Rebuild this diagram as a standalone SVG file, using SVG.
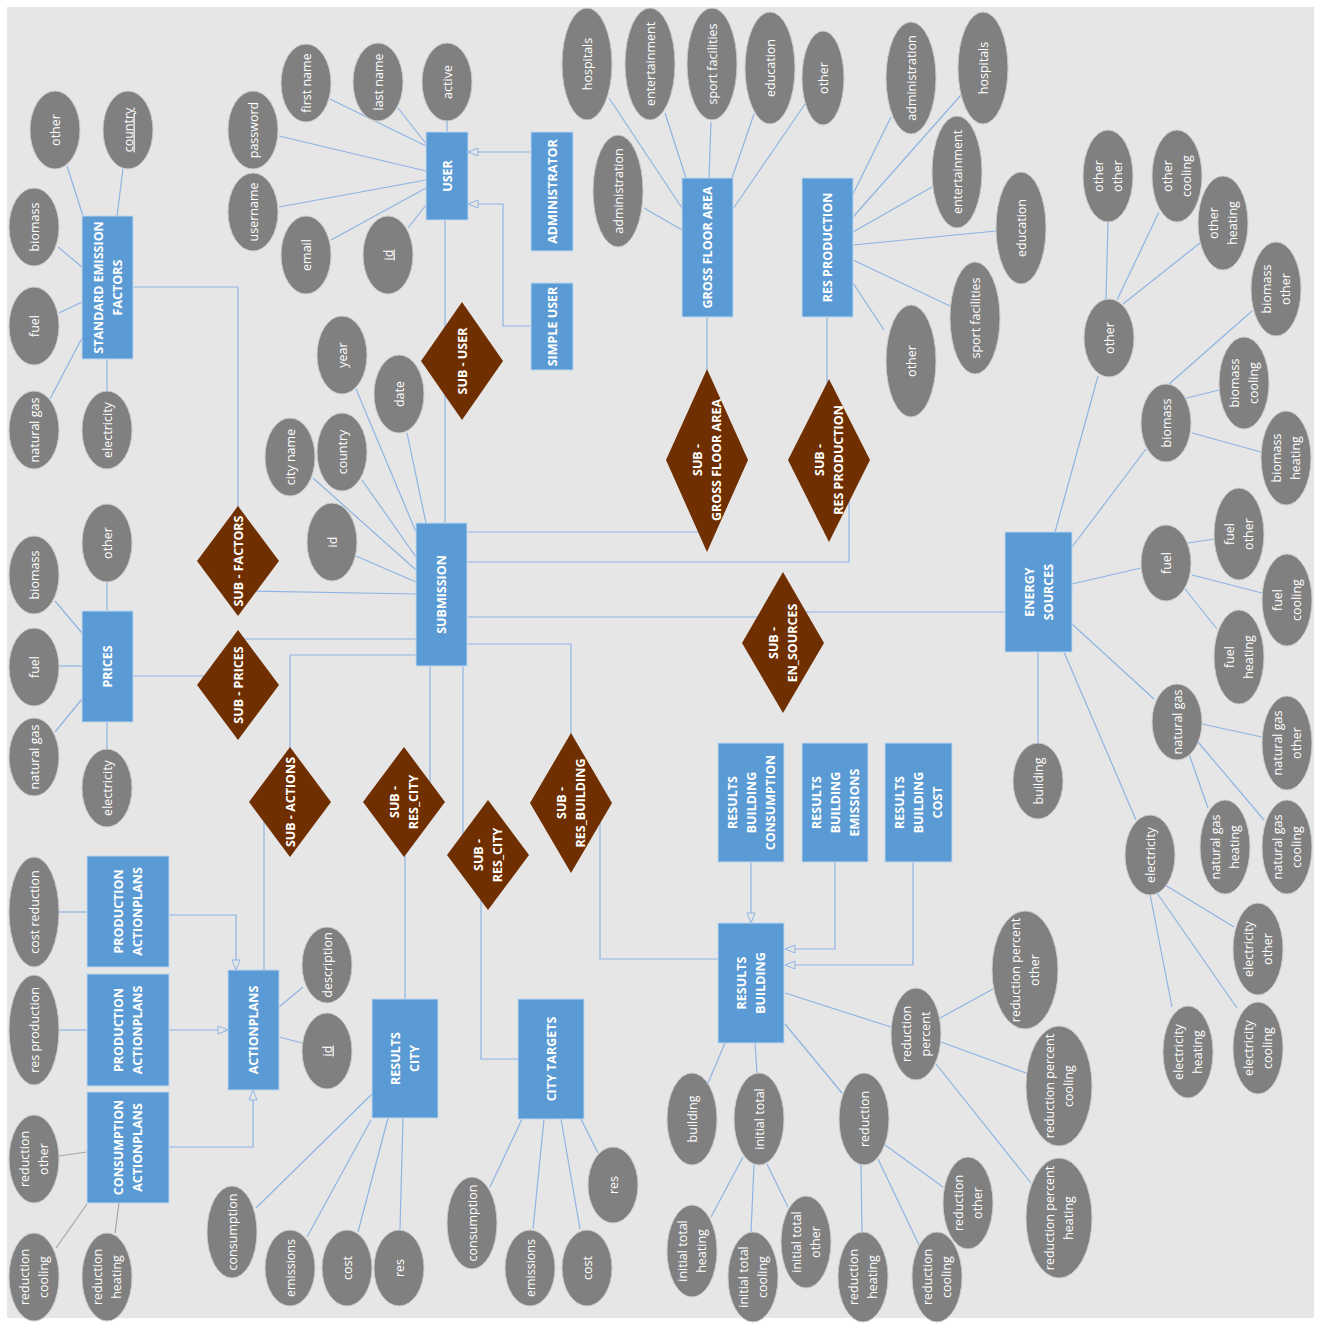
<svg xmlns="http://www.w3.org/2000/svg" width="1317" height="1323" viewBox="0 0 1317 1323">
<style>
.bg{fill:#e7e6e6}
.e{fill:#5b9bd5;stroke:#bdd7ee;stroke-width:1}
.a{fill:#808080;stroke:#c9c9c9;stroke-width:1}
.r{fill:#702f00}
.ln{fill:none;stroke:#8eb4e3;stroke-width:1.2}
.gl{fill:none;stroke:#a6a6a6;stroke-width:1.2}
.t{font-family:"Open Sans","Noto Sans",sans-serif;font-size:12.5px;fill:#fff;text-anchor:middle}
.b{font-weight:bold}
.u{text-decoration:underline}
</style>
<defs>
<marker id="tri" viewBox="0 0 10 8" refX="10" refY="4" markerWidth="10" markerHeight="8" markerUnits="userSpaceOnUse" orient="auto" overflow="visible">
<path d="M0,0 L10,4 L0,8 z" fill="#e7e6e6" stroke="#8eb4e3" stroke-width="1"/>
</marker>
</defs>
<rect x="0" y="0" width="1317" height="1323" fill="#ffffff"/>
<rect class="bg" x="7" y="7" width="1307" height="1311"/>

<g id="connectors">
<!-- SEF -->
<line class="ln" x1="67" y1="166" x2="83" y2="216"/>
<line class="ln" x1="123" y1="169" x2="117" y2="216"/>
<line class="ln" x1="58" y1="247" x2="82" y2="267"/>
<line class="ln" x1="59" y1="313" x2="82" y2="302"/>
<line class="ln" x1="50" y1="399" x2="82" y2="338"/>
<line class="ln" x1="107" y1="359" x2="107" y2="392"/>
<polyline class="ln" points="133,287 238,287 238,530"/>
<!-- USER -->
<line class="ln" x1="279" y1="136" x2="426" y2="171"/>
<line class="ln" x1="330" y1="99" x2="426" y2="146"/>
<line class="ln" x1="398" y1="108" x2="427" y2="145"/>
<line class="ln" x1="447" y1="121" x2="447" y2="132"/>
<line class="ln" x1="279" y1="207" x2="426" y2="180"/>
<line class="ln" x1="331" y1="240" x2="426" y2="188"/>
<line class="ln" x1="408" y1="228" x2="426" y2="205"/>
<polyline class="ln" points="531,152 468,152" marker-end="url(#tri)"/>
<polyline class="ln" points="531,326 503,326 503,204 468,204" marker-end="url(#tri)"/>
<line class="ln" x1="445" y1="220" x2="445" y2="523"/>
<!-- GFA -->
<line class="ln" x1="609" y1="98" x2="682" y2="208"/>
<line class="ln" x1="665" y1="113" x2="686" y2="178"/>
<line class="ln" x1="711" y1="122" x2="709" y2="178"/>
<line class="ln" x1="754" y1="114" x2="732" y2="178"/>
<line class="ln" x1="805" y1="104" x2="733" y2="209"/>
<line class="ln" x1="644" y1="208" x2="682" y2="230"/>
<line class="ln" x1="707" y1="317" x2="707" y2="380"/>
<!-- RP -->
<line class="ln" x1="891" y1="117" x2="853" y2="194"/>
<line class="ln" x1="961" y1="95" x2="853" y2="217"/>
<line class="ln" x1="932" y1="187" x2="853" y2="232"/>
<line class="ln" x1="996" y1="231" x2="853" y2="245"/>
<line class="ln" x1="950" y1="306" x2="853" y2="260"/>
<line class="ln" x1="884" y1="330" x2="853" y2="283"/>
<line class="ln" x1="827" y1="317" x2="827" y2="390"/>
<!-- SUBMISSION attrs -->
<line class="ln" x1="356" y1="389" x2="416" y2="532"/>
<line class="ln" x1="407" y1="433" x2="426" y2="523"/>
<line class="ln" x1="362" y1="480" x2="416" y2="557"/>
<line class="ln" x1="313" y1="478" x2="416" y2="570"/>
<line class="ln" x1="356" y1="556" x2="416" y2="582"/>
<!-- SUBMISSION relations -->
<line class="ln" x1="467" y1="532" x2="700" y2="532"/>
<polyline class="ln" points="467,562 849,562 849,490"/>
<line class="ln" x1="467" y1="617" x2="770" y2="617"/>
<line class="ln" x1="800" y1="612" x2="1005" y2="612"/>
<polyline class="ln" points="467,644 571,644 571,760"/>
<polyline class="ln" points="600,815 600,959 718,959"/>
<line class="ln" x1="430" y1="666" x2="430" y2="790"/>
<line class="ln" x1="405" y1="840" x2="405" y2="999"/>
<line class="ln" x1="463" y1="666" x2="463" y2="840"/>
<polyline class="ln" points="481,880 481,1059 518,1059"/>
<polyline class="ln" points="416,655 290,655 290,760"/>
<line class="ln" x1="264" y1="815" x2="264" y2="970"/>
<line class="ln" x1="240" y1="639" x2="416" y2="639"/>
<line class="ln" x1="133" y1="676" x2="220" y2="676"/>
<line class="ln" x1="250" y1="591" x2="416" y2="594"/>
<!-- PRICES -->
<line class="ln" x1="107" y1="582" x2="107" y2="611"/>
<line class="ln" x1="55" y1="601" x2="82" y2="633"/>
<line class="ln" x1="59" y1="666" x2="82" y2="666"/>
<line class="ln" x1="55" y1="732" x2="82" y2="699"/>
<line class="ln" x1="107" y1="722" x2="107" y2="750"/>
<!-- ACTIONPLANS -->
<line class="ln" x1="59" y1="912" x2="87" y2="912"/>
<line class="ln" x1="59" y1="1030" x2="87" y2="1030"/>
<line class="gl" x1="59" y1="1156" x2="87" y2="1152"/>
<line class="gl" x1="56" y1="1248" x2="87" y2="1204"/>
<line class="gl" x1="115" y1="1233" x2="119" y2="1203"/>
<line class="ln" x1="303" y1="987" x2="279" y2="1007"/>
<line class="ln" x1="302" y1="1043" x2="279" y2="1037"/>
<polyline class="ln" points="169,915 236,915 236,970" marker-end="url(#tri)"/>
<polyline class="ln" points="169,1030 228,1030" marker-end="url(#tri)"/>
<polyline class="ln" points="169,1147 253,1147 253,1090" marker-end="url(#tri)"/>
<!-- RESULTS CITY -->
<line class="ln" x1="256" y1="1208" x2="372" y2="1094"/>
<line class="ln" x1="307" y1="1237" x2="371" y2="1120"/>
<line class="ln" x1="358" y1="1232" x2="388" y2="1118"/>
<line class="ln" x1="400" y1="1229" x2="403" y2="1118"/>
<!-- CITY TARGETS -->
<line class="ln" x1="490" y1="1187" x2="522" y2="1119"/>
<line class="ln" x1="533" y1="1229" x2="544" y2="1119"/>
<line class="ln" x1="580" y1="1229" x2="561" y2="1119"/>
<line class="ln" x1="598" y1="1153" x2="581" y2="1119"/>
<!-- RESULTS BUILDING -->
<polyline class="ln" points="751,862 751,923" marker-end="url(#tri)"/>
<polyline class="ln" points="835,862 835,949 785,949" marker-end="url(#tri)"/>
<polyline class="ln" points="913,862 913,965 785,965" marker-end="url(#tri)"/>
<line class="ln" x1="725" y1="1043" x2="708" y2="1083"/>
<line class="ln" x1="755" y1="1043" x2="757" y2="1073"/>
<line class="ln" x1="785" y1="1024" x2="842" y2="1093"/>
<line class="ln" x1="785" y1="993" x2="891" y2="1027"/>
<line class="ln" x1="743" y1="1157" x2="711" y2="1217"/>
<line class="ln" x1="754" y1="1165" x2="751" y2="1232"/>
<line class="ln" x1="767" y1="1164" x2="788" y2="1207"/>
<line class="ln" x1="861" y1="1165" x2="862" y2="1232"/>
<line class="ln" x1="878" y1="1159" x2="919" y2="1245"/>
<line class="ln" x1="885" y1="1145" x2="943" y2="1187"/>
<line class="ln" x1="940" y1="1018" x2="993" y2="989"/>
<line class="ln" x1="941" y1="1042" x2="1026" y2="1073"/>
<line class="ln" x1="936" y1="1064" x2="1031" y2="1183"/>
<!-- ENERGY SOURCES -->
<line class="ln" x1="1106" y1="299" x2="1108" y2="222"/>
<line class="ln" x1="1117" y1="300" x2="1159" y2="212"/>
<line class="ln" x1="1123" y1="304" x2="1200" y2="243"/>
<line class="ln" x1="1098" y1="376" x2="1055" y2="532"/>
<line class="ln" x1="1168" y1="385" x2="1252" y2="311"/>
<line class="ln" x1="1183" y1="399" x2="1219" y2="390"/>
<line class="ln" x1="1192" y1="433" x2="1261" y2="452"/>
<line class="ln" x1="1146" y1="449" x2="1072" y2="547"/>
<line class="ln" x1="1072" y1="584" x2="1141" y2="568"/>
<line class="ln" x1="1188" y1="543" x2="1214" y2="539"/>
<line class="ln" x1="1192" y1="575" x2="1262" y2="593"/>
<line class="ln" x1="1185" y1="589" x2="1217" y2="629"/>
<line class="ln" x1="1072" y1="624" x2="1154" y2="699"/>
<line class="ln" x1="1202" y1="724" x2="1262" y2="737"/>
<line class="ln" x1="1189" y1="754" x2="1208" y2="808"/>
<line class="ln" x1="1198" y1="742" x2="1264" y2="820"/>
<line class="ln" x1="1038" y1="652" x2="1038" y2="743"/>
<line class="ln" x1="1064" y1="652" x2="1136" y2="820"/>
<line class="ln" x1="1150" y1="894" x2="1172" y2="1007"/>
<line class="ln" x1="1157" y1="893" x2="1237" y2="1008"/>
<line class="ln" x1="1165" y1="885" x2="1234" y2="927"/>
</g>

<!-- ENTITIES -->
<g id="n_sef"><rect class="e" x="82" y="216" width="51" height="143"/><text class="t b" transform="translate(107.5 287.5) rotate(-90)"><tspan x="0" y="-5">STANDARD EMISSION</tspan><tspan x="0" y="14">FACTORS</tspan></text></g>
<g id="n_user"><rect class="e" x="426" y="132" width="42" height="88"/><text class="t b" transform="translate(447 176) rotate(-90)" y="4.5">USER</text></g>
<g id="n_admin"><rect class="e" x="531" y="132" width="42" height="119"/><text class="t b" transform="translate(552 191.5) rotate(-90)" y="4.5">ADMINISTRATOR</text></g>
<g id="n_simple"><rect class="e" x="531" y="283" width="42" height="87"/><text class="t b" transform="translate(552 326.5) rotate(-90)" y="4.5">SIMPLE USER</text></g>
<g id="n_gfa"><rect class="e" x="682" y="178" width="51" height="139"/><text class="t b" transform="translate(707.5 247.5) rotate(-90)" y="4.5">GROSS FLOOR AREA</text></g>
<g id="n_rp"><rect class="e" x="802" y="178" width="51" height="139"/><text class="t b" transform="translate(827.5 247.5) rotate(-90)" y="4.5">RES PRODUCTION</text></g>
<g id="n_sub"><rect class="e" x="416" y="523" width="51" height="143"/><text class="t b" transform="translate(441.5 594.5) rotate(-90)" y="4.5">SUBMISSION</text></g>
<g id="n_prices"><rect class="e" x="82" y="611" width="51" height="111"/><text class="t b" transform="translate(107.5 666.5) rotate(-90)" y="4.5">PRICES</text></g>
<g id="n_es"><rect class="e" x="1005" y="532" width="67" height="120"/><text class="t b" transform="translate(1038.5 592) rotate(-90)"><tspan x="0" y="-5">ENERGY</tspan><tspan x="0" y="14">SOURCES</tspan></text></g>
<g id="n_pa1"><rect class="e" x="87" y="856" width="82" height="111"/><text class="t b" transform="translate(128 911.5) rotate(-90)"><tspan x="0" y="-5">PRODUCTION</tspan><tspan x="0" y="14">ACTIONPLANS</tspan></text></g>
<g id="n_pa2"><rect class="e" x="87" y="974" width="82" height="112"/><text class="t b" transform="translate(128 1030) rotate(-90)"><tspan x="0" y="-5">PRODUCTION</tspan><tspan x="0" y="14">ACTIONPLANS</tspan></text></g>
<g id="n_ca"><rect class="e" x="87" y="1092" width="82" height="111"/><text class="t b" transform="translate(128 1147.5) rotate(-90)"><tspan x="0" y="-5">CONSUMPTION</tspan><tspan x="0" y="14">ACTIONPLANS</tspan></text></g>
<g id="n_ap"><rect class="e" x="228" y="970" width="51" height="120"/><text class="t b" transform="translate(253.5 1030) rotate(-90)" y="4.5">ACTIONPLANS</text></g>
<g id="n_rc"><rect class="e" x="372" y="999" width="66" height="119"/><text class="t b" transform="translate(405 1058.5) rotate(-90)"><tspan x="0" y="-5">RESULTS</tspan><tspan x="0" y="14">CITY</tspan></text></g>
<g id="n_ct"><rect class="e" x="518" y="999" width="66" height="120"/><text class="t b" transform="translate(551 1059) rotate(-90)" y="4.5">CITY TARGETS</text></g>
<g id="n_rbc"><rect class="e" x="718" y="743" width="66" height="119"/><text class="t b" transform="translate(751 802.5) rotate(-90)"><tspan x="0" y="-14.5">RESULTS</tspan><tspan x="0" y="4.5">BUILDING</tspan><tspan x="0" y="23.5">CONSUMPTION</tspan></text></g>
<g id="n_rbe"><rect class="e" x="802" y="743" width="66" height="119"/><text class="t b" transform="translate(835 802.5) rotate(-90)"><tspan x="0" y="-14.5">RESULTS</tspan><tspan x="0" y="4.5">BUILDING</tspan><tspan x="0" y="23.5">EMISSIONS</tspan></text></g>
<g id="n_rbcost"><rect class="e" x="885" y="743" width="67" height="119"/><text class="t b" transform="translate(918.5 802.5) rotate(-90)"><tspan x="0" y="-14.5">RESULTS</tspan><tspan x="0" y="4.5">BUILDING</tspan><tspan x="0" y="23.5">COST</tspan></text></g>
<g id="n_rb"><rect class="e" x="718" y="923" width="66" height="120"/><text class="t b" transform="translate(751 983) rotate(-90)"><tspan x="0" y="-5">RESULTS</tspan><tspan x="0" y="14">BUILDING</tspan></text></g>

<!-- RELATIONSHIPS -->
<g id="r_factors"><polygon class="r" points="238,506 279,561 238,616 197,561"/><text class="t b" transform="translate(238 561) rotate(-90)" y="4.5">SUB - FACTORS</text></g>
<g id="r_user"><polygon class="r" points="462,302 503,361 462,420 421,361"/><text class="t b" transform="translate(462 361) rotate(-90)" y="4.5">SUB - USER</text></g>
<g id="r_prices"><polygon class="r" points="238,630 279,685 238,740 197,685"/><text class="t b" transform="translate(238 685) rotate(-90)" y="4.5">SUB - PRICES</text></g>
<g id="r_actions"><polygon class="r" points="290,747 331,802 290,857 249,802"/><text class="t b" transform="translate(290 802) rotate(-90)" y="4.5">SUB - ACTIONS</text></g>
<g id="r_rescity1"><polygon class="r" points="404,747 445,802 404,857 363,802"/><text class="t b" transform="translate(404 802) rotate(-90)"><tspan x="0" y="-5">SUB -</tspan><tspan x="0" y="14">RES_CITY</tspan></text></g>
<g id="r_rescity2"><polygon class="r" points="488,800 529,855 488,910 447,855"/><text class="t b" transform="translate(488 855) rotate(-90)"><tspan x="0" y="-5">SUB -</tspan><tspan x="0" y="14">RES_CITY</tspan></text></g>
<g id="r_resbuilding"><polygon class="r" points="571,733 612,803 571,873 530,803"/><text class="t b" transform="translate(571 803) rotate(-90)"><tspan x="0" y="-5">SUB -</tspan><tspan x="0" y="14">RES_BUILDING</tspan></text></g>
<g id="r_gfa"><polygon class="r" points="707,369 748,460 707,552 666,460"/><text class="t b" transform="translate(707 460) rotate(-90)"><tspan x="0" y="-5">SUB -</tspan><tspan x="0" y="14">GROSS FLOOR AREA</tspan></text></g>
<g id="r_rp"><polygon class="r" points="829,379 870,460 829,542 788,460"/><text class="t b" transform="translate(829 460) rotate(-90)"><tspan x="0" y="-5">SUB -</tspan><tspan x="0" y="14">RES PRODUCTION</tspan></text></g>
<g id="r_en"><polygon class="r" points="783,572 824,643 783,713 742,643"/><text class="t b" transform="translate(783 643) rotate(-90)"><tspan x="0" y="-5">SUB -</tspan><tspan x="0" y="14">EN_SOURCES</tspan></text></g>

<!-- ATTRIBUTES: SEF -->
<g id="a_sef_other"><ellipse class="a" cx="55" cy="130" rx="25" ry="39"/><text class="t" transform="translate(55 130) rotate(-90)" y="4.5">other</text></g>
<g id="a_sef_country"><ellipse class="a" cx="128" cy="130" rx="25" ry="39"/><text class="t u" transform="translate(128 130) rotate(-90)" y="4.5">country</text></g>
<g id="a_sef_biomass"><ellipse class="a" cx="34" cy="227" rx="25" ry="39"/><text class="t" transform="translate(34 227) rotate(-90)" y="4.5">biomass</text></g>
<g id="a_sef_fuel"><ellipse class="a" cx="34" cy="326" rx="25" ry="39"/><text class="t" transform="translate(34 326) rotate(-90)" y="4.5">fuel</text></g>
<g id="a_sef_ng"><ellipse class="a" cx="34" cy="430" rx="25" ry="39"/><text class="t" transform="translate(34 430) rotate(-90)" y="4.5">natural gas</text></g>
<g id="a_sef_elec"><ellipse class="a" cx="107" cy="430" rx="25" ry="39"/><text class="t" transform="translate(107 430) rotate(-90)" y="4.5">electricity</text></g>
<!-- USER -->
<g id="a_u_password"><ellipse class="a" cx="253" cy="130" rx="25" ry="39"/><text class="t" transform="translate(253 130) rotate(-90)" y="4.5">password</text></g>
<g id="a_u_first"><ellipse class="a" cx="306" cy="83" rx="25" ry="39"/><text class="t" transform="translate(306 83) rotate(-90)" y="4.5">first name</text></g>
<g id="a_u_last"><ellipse class="a" cx="378" cy="82" rx="25" ry="39"/><text class="t" transform="translate(378 82) rotate(-90)" y="4.5">last name</text></g>
<g id="a_u_active"><ellipse class="a" cx="447" cy="82" rx="25" ry="39"/><text class="t" transform="translate(447 82) rotate(-90)" y="4.5">active</text></g>
<g id="a_u_username"><ellipse class="a" cx="253" cy="212" rx="25" ry="39"/><text class="t" transform="translate(253 212) rotate(-90)" y="4.5">username</text></g>
<g id="a_u_email"><ellipse class="a" cx="306" cy="255" rx="25" ry="39"/><text class="t" transform="translate(306 255) rotate(-90)" y="4.5">email</text></g>
<g id="a_u_id"><ellipse class="a" cx="388" cy="255" rx="25" ry="39"/><text class="t u" transform="translate(388 255) rotate(-90)" y="4.5">id</text></g>
<!-- GFA -->
<g id="a_g_hosp"><ellipse class="a" cx="587" cy="64" rx="25" ry="56"/><text class="t" transform="translate(587 64) rotate(-90)" y="4.5">hospitals</text></g>
<g id="a_g_ent"><ellipse class="a" cx="650" cy="64" rx="25" ry="56"/><text class="t" transform="translate(650 64) rotate(-90)" y="4.5">entertainment</text></g>
<g id="a_g_sport"><ellipse class="a" cx="712" cy="64" rx="25" ry="56"/><text class="t" transform="translate(712 64) rotate(-90)" y="4.5">sport facilities</text></g>
<g id="a_g_edu"><ellipse class="a" cx="770" cy="68" rx="25" ry="56"/><text class="t" transform="translate(770 68) rotate(-90)" y="4.5">education</text></g>
<g id="a_g_other"><ellipse class="a" cx="823" cy="78" rx="21" ry="47"/><text class="t" transform="translate(823 78) rotate(-90)" y="4.5">other</text></g>
<g id="a_g_admin"><ellipse class="a" cx="618" cy="191" rx="25" ry="56"/><text class="t" transform="translate(618 191) rotate(-90)" y="4.5">administration</text></g>
<!-- RP -->
<g id="a_r_admin"><ellipse class="a" cx="911" cy="78" rx="25" ry="56"/><text class="t" transform="translate(911 78) rotate(-90)" y="4.5">administration</text></g>
<g id="a_r_hosp"><ellipse class="a" cx="983" cy="68" rx="25" ry="56"/><text class="t" transform="translate(983 68) rotate(-90)" y="4.5">hospitals</text></g>
<g id="a_r_ent"><ellipse class="a" cx="957" cy="172" rx="25" ry="56"/><text class="t" transform="translate(957 172) rotate(-90)" y="4.5">entertainment</text></g>
<g id="a_r_edu"><ellipse class="a" cx="1021" cy="228" rx="25" ry="56"/><text class="t" transform="translate(1021 228) rotate(-90)" y="4.5">education</text></g>
<g id="a_r_sport"><ellipse class="a" cx="975" cy="318" rx="25" ry="56"/><text class="t" transform="translate(975 318) rotate(-90)" y="4.5">sport facilities</text></g>
<g id="a_r_other"><ellipse class="a" cx="911" cy="361" rx="25" ry="56"/><text class="t" transform="translate(911 361) rotate(-90)" y="4.5">other</text></g>
<!-- SUBMISSION -->
<g id="a_s_year"><ellipse class="a" cx="342" cy="355" rx="25" ry="39"/><text class="t" transform="translate(342 355) rotate(-90)" y="4.5">year</text></g>
<g id="a_s_date"><ellipse class="a" cx="399" cy="394" rx="25" ry="39"/><text class="t" transform="translate(399 394) rotate(-90)" y="4.5">date</text></g>
<g id="a_s_city"><ellipse class="a" cx="290" cy="457" rx="25" ry="39"/><text class="t" transform="translate(290 457) rotate(-90)" y="4.5">city name</text></g>
<g id="a_s_country"><ellipse class="a" cx="342" cy="452" rx="25" ry="39"/><text class="t" transform="translate(342 452) rotate(-90)" y="4.5">country</text></g>
<g id="a_s_id"><ellipse class="a" cx="332" cy="542" rx="25" ry="39"/><text class="t" transform="translate(332 542) rotate(-90)" y="4.5">id</text></g>
<!-- PRICES -->
<g id="a_p_other"><ellipse class="a" cx="107" cy="543" rx="25" ry="39"/><text class="t" transform="translate(107 543) rotate(-90)" y="4.5">other</text></g>
<g id="a_p_biomass"><ellipse class="a" cx="34" cy="575" rx="25" ry="39"/><text class="t" transform="translate(34 575) rotate(-90)" y="4.5">biomass</text></g>
<g id="a_p_fuel"><ellipse class="a" cx="34" cy="667" rx="25" ry="39"/><text class="t" transform="translate(34 667) rotate(-90)" y="4.5">fuel</text></g>
<g id="a_p_ng"><ellipse class="a" cx="34" cy="757" rx="25" ry="39"/><text class="t" transform="translate(34 757) rotate(-90)" y="4.5">natural gas</text></g>
<g id="a_p_elec"><ellipse class="a" cx="107" cy="788" rx="25" ry="39"/><text class="t" transform="translate(107 788) rotate(-90)" y="4.5">electricity</text></g>
<!-- ACTIONPLANS -->
<g id="a_a_costred"><ellipse class="a" cx="34" cy="912" rx="25" ry="55"/><text class="t" transform="translate(34 912) rotate(-90)" y="4.5">cost reduction</text></g>
<g id="a_a_resprod"><ellipse class="a" cx="34" cy="1030" rx="25" ry="55"/><text class="t" transform="translate(34 1030) rotate(-90)" y="4.5">res production</text></g>
<g id="a_a_redother"><ellipse class="a" cx="34" cy="1159" rx="25" ry="44"/><text class="t" transform="translate(34 1159) rotate(-90)"><tspan x="0" y="-5">reduction</tspan><tspan x="0" y="14">other</tspan></text></g>
<g id="a_a_redcool"><ellipse class="a" cx="34" cy="1277" rx="25" ry="44"/><text class="t" transform="translate(34 1277) rotate(-90)"><tspan x="0" y="-5">reduction</tspan><tspan x="0" y="14">cooling</tspan></text></g>
<g id="a_a_redheat"><ellipse class="a" cx="107" cy="1277" rx="25" ry="44"/><text class="t" transform="translate(107 1277) rotate(-90)"><tspan x="0" y="-5">reduction</tspan><tspan x="0" y="14">heating</tspan></text></g>
<g id="a_a_desc"><ellipse class="a" cx="327" cy="965" rx="25" ry="38"/><text class="t" transform="translate(327 965) rotate(-90)" y="4.5">description</text></g>
<g id="a_a_id"><ellipse class="a" cx="327" cy="1051" rx="25" ry="38"/><text class="t u" transform="translate(327 1051) rotate(-90)" y="4.5">id</text></g>
<!-- RESULTS CITY -->
<g id="a_rc_cons"><ellipse class="a" cx="232" cy="1232" rx="25" ry="46"/><text class="t" transform="translate(232 1232) rotate(-90)" y="4.5">consumption</text></g>
<g id="a_rc_em"><ellipse class="a" cx="290" cy="1268" rx="25" ry="38"/><text class="t" transform="translate(290 1268) rotate(-90)" y="4.5">emissions</text></g>
<g id="a_rc_cost"><ellipse class="a" cx="347" cy="1268" rx="25" ry="38"/><text class="t" transform="translate(347 1268) rotate(-90)" y="4.5">cost</text></g>
<g id="a_rc_res"><ellipse class="a" cx="399" cy="1268" rx="25" ry="38"/><text class="t" transform="translate(399 1268) rotate(-90)" y="4.5">res</text></g>
<!-- CITY TARGETS -->
<g id="a_ct_cons"><ellipse class="a" cx="472" cy="1223" rx="25" ry="46"/><text class="t" transform="translate(472 1223) rotate(-90)" y="4.5">consumption</text></g>
<g id="a_ct_em"><ellipse class="a" cx="530" cy="1268" rx="25" ry="38"/><text class="t" transform="translate(530 1268) rotate(-90)" y="4.5">emissions</text></g>
<g id="a_ct_cost"><ellipse class="a" cx="587" cy="1268" rx="25" ry="38"/><text class="t" transform="translate(587 1268) rotate(-90)" y="4.5">cost</text></g>
<g id="a_ct_res"><ellipse class="a" cx="613" cy="1185" rx="25" ry="38"/><text class="t" transform="translate(613 1185) rotate(-90)" y="4.5">res</text></g>
<!-- RESULTS BUILDING -->
<g id="a_rb_building"><ellipse class="a" cx="692" cy="1119" rx="25" ry="46"/><text class="t" transform="translate(692 1119) rotate(-90)" y="4.5">building</text></g>
<g id="a_rb_it"><ellipse class="a" cx="759" cy="1119" rx="25" ry="46"/><text class="t" transform="translate(759 1119) rotate(-90)" y="4.5">initial total</text></g>
<g id="a_rb_ith"><ellipse class="a" cx="692" cy="1251" rx="25" ry="46"/><text class="t" transform="translate(692 1251) rotate(-90)"><tspan x="0" y="-5">initial total</tspan><tspan x="0" y="14">heating</tspan></text></g>
<g id="a_rb_itc"><ellipse class="a" cx="753" cy="1277" rx="25" ry="45"/><text class="t" transform="translate(753 1277) rotate(-90)"><tspan x="0" y="-5">initial total</tspan><tspan x="0" y="14">cooling</tspan></text></g>
<g id="a_rb_ito"><ellipse class="a" cx="806" cy="1242" rx="25" ry="46"/><text class="t" transform="translate(806 1242) rotate(-90)"><tspan x="0" y="-5">initial total</tspan><tspan x="0" y="14">other</tspan></text></g>
<g id="a_rb_red"><ellipse class="a" cx="864" cy="1119" rx="25" ry="46"/><text class="t" transform="translate(864 1119) rotate(-90)" y="4.5">reduction</text></g>
<g id="a_rb_redh"><ellipse class="a" cx="863" cy="1277" rx="25" ry="45"/><text class="t" transform="translate(863 1277) rotate(-90)"><tspan x="0" y="-5">reduction</tspan><tspan x="0" y="14">heating</tspan></text></g>
<g id="a_rb_redc"><ellipse class="a" cx="937" cy="1277" rx="25" ry="45"/><text class="t" transform="translate(937 1277) rotate(-90)"><tspan x="0" y="-5">reduction</tspan><tspan x="0" y="14">cooling</tspan></text></g>
<g id="a_rb_redo"><ellipse class="a" cx="968" cy="1203" rx="25" ry="46"/><text class="t" transform="translate(968 1203) rotate(-90)"><tspan x="0" y="-5">reduction</tspan><tspan x="0" y="14">other</tspan></text></g>
<g id="a_rb_rp"><ellipse class="a" cx="916" cy="1034" rx="25" ry="46"/><text class="t" transform="translate(916 1034) rotate(-90)"><tspan x="0" y="-5">reduction</tspan><tspan x="0" y="14">percent</tspan></text></g>
<g id="a_rb_rpo"><ellipse class="a" cx="1025" cy="970" rx="33" ry="59"/><text class="t" transform="translate(1025 970) rotate(-90)"><tspan x="0" y="-5">reduction percent</tspan><tspan x="0" y="14">other</tspan></text></g>
<g id="a_rb_rpc"><ellipse class="a" cx="1059" cy="1086" rx="33" ry="60"/><text class="t" transform="translate(1059 1086) rotate(-90)"><tspan x="0" y="-5">reduction percent</tspan><tspan x="0" y="14">cooling</tspan></text></g>
<g id="a_rb_rph"><ellipse class="a" cx="1059" cy="1218" rx="33" ry="60"/><text class="t" transform="translate(1059 1218) rotate(-90)"><tspan x="0" y="-5">reduction percent</tspan><tspan x="0" y="14">heating</tspan></text></g>
<!-- ENERGY SOURCES -->
<g id="a_e_oo"><ellipse class="a" cx="1108" cy="176" rx="25" ry="46"/><text class="t" transform="translate(1108 176) rotate(-90)"><tspan x="0" y="-5">other</tspan><tspan x="0" y="14">other</tspan></text></g>
<g id="a_e_oc"><ellipse class="a" cx="1177" cy="176" rx="25" ry="46"/><text class="t" transform="translate(1177 176) rotate(-90)"><tspan x="0" y="-5">other</tspan><tspan x="0" y="14">cooling</tspan></text></g>
<g id="a_e_oh"><ellipse class="a" cx="1223" cy="223" rx="25" ry="47"/><text class="t" transform="translate(1223 223) rotate(-90)"><tspan x="0" y="-5">other</tspan><tspan x="0" y="14">heating</tspan></text></g>
<g id="a_e_bo"><ellipse class="a" cx="1276" cy="289" rx="25" ry="47"/><text class="t" transform="translate(1276 289) rotate(-90)"><tspan x="0" y="-5">biomass</tspan><tspan x="0" y="14">other</tspan></text></g>
<g id="a_e_other"><ellipse class="a" cx="1109" cy="338" rx="25" ry="39"/><text class="t" transform="translate(1109 338) rotate(-90)" y="4.5">other</text></g>
<g id="a_e_bc"><ellipse class="a" cx="1244" cy="383" rx="25" ry="46"/><text class="t" transform="translate(1244 383) rotate(-90)"><tspan x="0" y="-5">biomass</tspan><tspan x="0" y="14">cooling</tspan></text></g>
<g id="a_e_biomass"><ellipse class="a" cx="1166" cy="423" rx="25" ry="39"/><text class="t" transform="translate(1166 423) rotate(-90)" y="4.5">biomass</text></g>
<g id="a_e_bh"><ellipse class="a" cx="1286" cy="458" rx="25" ry="47"/><text class="t" transform="translate(1286 458) rotate(-90)"><tspan x="0" y="-5">biomass</tspan><tspan x="0" y="14">heating</tspan></text></g>
<g id="a_e_fuel"><ellipse class="a" cx="1166" cy="563" rx="25" ry="38"/><text class="t" transform="translate(1166 563) rotate(-90)" y="4.5">fuel</text></g>
<g id="a_e_fo"><ellipse class="a" cx="1239" cy="534" rx="25" ry="46"/><text class="t" transform="translate(1239 534) rotate(-90)"><tspan x="0" y="-5">fuel</tspan><tspan x="0" y="14">other</tspan></text></g>
<g id="a_e_fc"><ellipse class="a" cx="1287" cy="600" rx="25" ry="46"/><text class="t" transform="translate(1287 600) rotate(-90)"><tspan x="0" y="-5">fuel</tspan><tspan x="0" y="14">cooling</tspan></text></g>
<g id="a_e_fh"><ellipse class="a" cx="1239" cy="657" rx="25" ry="47"/><text class="t" transform="translate(1239 657) rotate(-90)"><tspan x="0" y="-5">fuel</tspan><tspan x="0" y="14">heating</tspan></text></g>
<g id="a_e_ng"><ellipse class="a" cx="1177" cy="722" rx="25" ry="38"/><text class="t" transform="translate(1177 722) rotate(-90)" y="4.5">natural gas</text></g>
<g id="a_e_ngo"><ellipse class="a" cx="1287" cy="743" rx="25" ry="47"/><text class="t" transform="translate(1287 743) rotate(-90)"><tspan x="0" y="-5">natural gas</tspan><tspan x="0" y="14">other</tspan></text></g>
<g id="a_e_ngh"><ellipse class="a" cx="1225" cy="847" rx="25" ry="47"/><text class="t" transform="translate(1225 847) rotate(-90)"><tspan x="0" y="-5">natural gas</tspan><tspan x="0" y="14">heating</tspan></text></g>
<g id="a_e_ngc"><ellipse class="a" cx="1287" cy="847" rx="25" ry="47"/><text class="t" transform="translate(1287 847) rotate(-90)"><tspan x="0" y="-5">natural gas</tspan><tspan x="0" y="14">cooling</tspan></text></g>
<g id="a_e_building"><ellipse class="a" cx="1038" cy="781" rx="25" ry="38"/><text class="t" transform="translate(1038 781) rotate(-90)" y="4.5">building</text></g>
<g id="a_e_elec"><ellipse class="a" cx="1150" cy="855" rx="25" ry="40"/><text class="t" transform="translate(1150 855) rotate(-90)" y="4.5">electricity</text></g>
<g id="a_e_eh"><ellipse class="a" cx="1188" cy="1052" rx="25" ry="46"/><text class="t" transform="translate(1188 1052) rotate(-90)"><tspan x="0" y="-5">electricity</tspan><tspan x="0" y="14">heating</tspan></text></g>
<g id="a_e_eo"><ellipse class="a" cx="1258" cy="949" rx="25" ry="46"/><text class="t" transform="translate(1258 949) rotate(-90)"><tspan x="0" y="-5">electricity</tspan><tspan x="0" y="14">other</tspan></text></g>
<g id="a_e_ec"><ellipse class="a" cx="1258" cy="1048" rx="25" ry="46"/><text class="t" transform="translate(1258 1048) rotate(-90)"><tspan x="0" y="-5">electricity</tspan><tspan x="0" y="14">cooling</tspan></text></g>
</svg>
